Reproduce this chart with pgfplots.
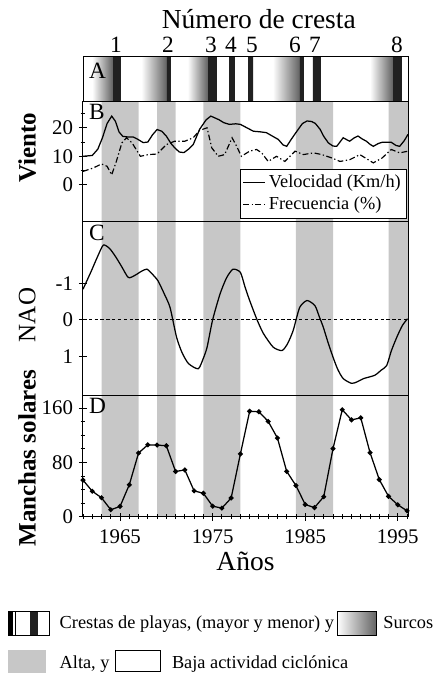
\documentclass[border=0pt]{standalone}
\usepackage{fontspec}
\setmainfont{Liberation Serif}
\usepackage{pgfplots}
\usepackage{pgfplotstable}
\pgfplotsset{compat=1.18}

\definecolor{banda}{gray}{0.78}
\definecolor{cresta}{gray}{0.13}
\definecolor{surco}{gray}{0.38}

% B: viento
\pgfplotstableread{
anio vel
1961.0 10.0
1962.0 10.3
1962.6 12.5
1963.1 16.5
1963.6 21.5
1964.1 24.1
1964.5 22.3
1964.9 18.5
1965.3 17.0
1965.8 16.8
1966.4 16.8
1966.9 16.0
1967.5 14.8
1968.0 15.0
1968.5 17.5
1969.0 19.4
1969.5 18.8
1970.0 17.1
1970.5 14.5
1970.9 13.0
1971.4 11.5
1971.9 11.3
1972.4 12.5
1972.9 14.1
1973.6 19.5
1974.3 22.8
1974.8 24.1
1975.3 23.4
1975.7 22.8
1976.2 21.8
1976.8 21.2
1977.5 21.4
1978.0 21.2
1978.7 20.0
1979.4 18.8
1980.1 18.6
1980.8 18.3
1981.5 17.0
1982.1 15.9
1982.6 14.0
1983.0 13.5
1983.5 16.0
1984.1 18.8
1984.7 21.5
1985.2 22.4
1985.7 22.2
1986.1 21.5
1986.6 19.5
1987.0 17.0
1987.5 14.7
1988.0 13.6
1988.4 13.5
1988.8 15.2
1989.1 16.5
1989.5 15.8
1989.8 15.3
1990.3 16.5
1990.7 17.1
1991.2 16.0
1991.6 15.3
1992.0 14.2
1992.35 13.5
1992.9 14.5
1993.3 14.9
1994.3 14.9
1994.8 13.8
1995.2 13.5
1995.7 15.5
1996.1 17.7
}\velocidad

\pgfplotstableread{
anio frec
1961.0 4.7
1962.1 5.9
1963.0 7.3
1963.6 6.5
1964.1 3.5
1964.6 8.2
1965.2 14.7
1965.7 16.5
1966.3 14.7
1967.2 10.0
1968.05 10.6
1969.0 10.8
1970.0 14.1
1970.9 15.3
1972.0 15.3
1972.9 16.5
1973.6 19.1
1974.4 20.0
1974.9 13.0
1975.6 10.0
1976.3 10.6
1977.1 16.5
1977.6 13.5
1978.1 10.0
1979.0 11.8
1979.75 12.4
1980.3 11.2
1981.0 8.2
1981.9 10.0
1982.8 8.2
1983.9 11.8
1984.8 10.6
1985.9 11.2
1986.8 10.6
1987.9 9.4
1988.75 8.2
1989.8 8.8
1990.9 10.6
1991.8 8.8
1992.35 7.7
1993.3 9.4
1994.3 12.4
1995.2 11.2
1996.1 11.8
}\frecuencia

% C: NAO
\pgfplotstableread{
anio nao
1961.0 -0.84
1961.9 -1.34
1962.6 -1.75
1963.2 -2.05
1963.9 -1.95
1964.6 -1.70
1965.2 -1.45
1965.9 -1.16
1966.6 -1.22
1967.3 -1.33
1967.9 -1.39
1968.5 -1.25
1969.1 -1.07
1969.8 -0.70
1970.4 -0.34
1971.1 0.47
1971.7 0.90
1972.4 1.20
1973.45 1.34
1974.0 1.05
1974.4 0.75
1975.0 0.00
1975.8 -0.71
1976.5 -1.15
1977.2 -1.39
1978.0 -1.30
1978.5 -0.90
1979.0 -0.53
1979.8 0.00
1980.5 0.38
1981.55 0.75
1982.5 0.84
1983.1 0.65
1983.7 0.29
1984.4 -0.34
1985.2 -0.53
1986.05 -0.39
1986.5 -0.10
1986.95 0.20
1987.5 0.65
1988.0 1.02
1988.5 1.35
1989.1 1.61
1990.0 1.74
1990.6 1.70
1991.3 1.61
1992.5 1.52
1993.2 1.38
1993.8 1.25
1994.3 0.85
1994.9 0.47
1995.5 0.15
1996.05 -0.03
}\nao

% D: manchas solares (medias anuales)
\pgfplotstableread{
anio ms
1961 53.9
1962 37.5
1963 27.9
1964 10.2
1965 15.1
1966 47.0
1967 93.8
1968 105.9
1969 105.5
1970 104.5
1971 66.6
1972 68.9
1973 38.0
1974 34.5
1975 15.5
1976 12.6
1977 27.5
1978 92.5
1979 155.4
1980 154.6
1981 140.4
1982 115.9
1983 66.6
1984 45.9
1985 17.9
1986 13.4
1987 29.4
1988 100.2
1989 157.6
1990 142.6
1991 145.7
1992 94.3
1993 54.6
1994 29.9
1995 17.5
1996 8.6
}\manchas

% franjas de alta actividad ciclonica
\newcommand{\franjas}[2]{%
  \addplot[fill=banda, draw=none, forget plot, line width=0pt] coordinates {
    (1963,#1)(1963,#2)(1967,#2)(1967,#1)
    (1969,#1)(1969,#2)(1971,#2)(1971,#1)
    (1974,#1)(1974,#2)(1978,#2)(1978,#1)
    (1984,#1)(1984,#2)(1988,#2)(1988,#1)
    (1994,#1)(1994,#2)(1997,#2)(1997,#1)};}

\tikzset{letra/.style={anchor=north west, inner sep=0.5pt, font=\fontsize{14}{16}\selectfont}}

\pgfplotsset{
  panel/.style={
    scale only axis, width=195pt,
    xmin=1961, xmax=1996.1,
    axis on top,
    tick align=center,
    major tick length=5pt, minor tick length=3pt,
    ytick pos=left,
    /pgf/number format/assume math mode=true,
    /pgf/number format/1000 sep={},
    tick label style={font=\fontsize{12.5}{14}\selectfont},
    label style={font=\fontsize{15}{17}\selectfont},
    every axis plot/.append style={line width=0.7pt},
    axis line style={line width=0.6pt},
    tick style={line width=0.5pt, black},
  },
  ylab/.style={ylabel style={at={(axis description cs:-0.172,#1)}, anchor=center}},
}

\begin{document}
\begin{tikzpicture}
\useasboundingbox (0,0) rectangle (267.6pt,-405pt);

% A
\begin{axis}[panel, name=A, at={(49.8pt,-34pt)}, anchor=north west,
  height=26.6pt, ymin=0, ymax=1, ytick=\empty,
  xtick={1964.56,1970.18,1974.82,1976.98,1979.25,1983.89,1986.05,1994.91},
  xticklabels={1,2,3,4,5,6,7,8},
  xtick pos=upper, xticklabel pos=upper, major tick length=0pt,
  xticklabel style={font=\fontsize{14}{16}\selectfont, yshift=-1pt},
  xlabel={Número de cresta},
  xlabel style={font=\fontsize{16.5}{18}\selectfont, xshift=8pt, yshift=-2pt}]
  % surcos
  \addplot[draw=none, left color=white, right color=surco, forget plot] coordinates {(1962.0,-1)(1962.0,2)(1964.24,2)(1964.24,-1)};
  \addplot[draw=none, left color=white, right color=surco, forget plot] coordinates {(1967.3,-1)(1967.3,2)(1970.07,2)(1970.07,-1)};
  \addplot[draw=none, left color=white, right color=surco, forget plot] coordinates {(1972.3,-1)(1972.3,2)(1974.5,2)(1974.5,-1)};
  \addplot[draw=none, left color=white, right color=surco, forget plot] coordinates {(1981.5,-1)(1981.5,2)(1984.43,2)(1984.43,-1)};
  \addplot[draw=none, left color=white, right color=surco, forget plot] coordinates {(1992.0,-1)(1992.0,2)(1994.48,2)(1994.48,-1)};
  % crestas
  \addplot[fill=cresta, draw=none, forget plot] coordinates {
    (1964.24,-1)(1964.24,2)(1965.10,2)(1965.10,-1)
    (1970.07,-1)(1970.07,2)(1970.50,2)(1970.50,-1)
    (1974.50,-1)(1974.50,2)(1975.47,2)(1975.47,-1)
    (1976.77,-1)(1976.77,2)(1977.41,2)(1977.41,-1)
    (1978.82,-1)(1978.82,2)(1979.36,2)(1979.36,-1)
    (1984.43,-1)(1984.43,2)(1984.86,2)(1984.86,-1)
    (1985.83,-1)(1985.83,2)(1986.70,2)(1986.70,-1)
    (1994.48,-1)(1994.48,2)(1995.45,2)(1995.45,-1)};
  \node[letra] at (axis description cs:0.015,0.88) {A};
\end{axis}

% B
\begin{axis}[panel, name=B, at={(A.south west)}, anchor=north west,
  height=72pt, ymin=-12.7, ymax=29.4,
  ytick={0,10,20}, minor ytick={5,15,25}, xtick=\empty,
  ylabel={\bfseries Viento}, ylab=0.61,
  legend style={at={(0.997,0.02)}, anchor=south east, draw=black, line width=0.5pt,
    font=\fontsize{11}{12.5}\selectfont, inner sep=1.5pt, row sep=0pt, cells={anchor=west}},
  legend image code/.code={\draw[#1] (0pt,0pt) -- (13pt,0pt);}]
  \franjas{-50}{50}
  \addplot[black, line width=0.75pt] table[x=anio, y=vel] {\velocidad};
  \addlegendentry{Velocidad (Km/h)}
  \addplot[black, line width=0.7pt, dash pattern=on 3.5pt off 1.5pt on 0.8pt off 1.5pt] table[x=anio, y=frec] {\frecuencia};
  \addlegendentry{Frecuencia (\%)}
  \node[letra] at (axis description cs:0.015,0.985) {B};
\end{axis}

% C
\begin{axis}[panel, name=C, at={(B.south west)}, anchor=north west,
  height=104.4pt, ymin=-2.71, ymax=2.06, y dir=reverse,
  ytick={-1,0,1}, xtick=\empty,
  ylabel={NAO}, ylab=0.46]
  \franjas{-5}{5}
  \addplot[black, line width=0.6pt, dash pattern=on 2pt off 1.5pt, forget plot] coordinates {(1961,0)(1996.1,0)};
  \addplot[black, line width=0.75pt, smooth, tension=0.4] table[x=anio, y=nao] {\nao};
  \node[letra] at (axis description cs:0.015,0.985) {C};
\end{axis}

% D
\begin{axis}[panel, name=D, at={(C.south west)}, anchor=north west,
  height=73pt, ymin=0, ymax=179.3,
  ytick={0,80,160}, minor ytick={20,40,60,100,120,140},
  xtick={1965,1975,1985,1995}, minor xtick={1961,...,1996},
  xtick pos=lower,
  xticklabel style={yshift=-2pt},
  xlabel={Años}, xlabel style={font=\fontsize{16.5}{18}\selectfont, yshift=2pt},
  ylabel={\bfseries Manchas solares}, ylab=0.48]
  \franjas{-500}{500}
  \addplot[black, line width=0.75pt, mark=*, mark size=1.1pt] table[x=anio, y=ms] {\manchas};
  \node[letra] at (axis description cs:0.015,0.985) {D};
\end{axis}

% leyenda inferior
\begin{scope}[font=\fontsize{11}{13}\selectfont]
  \draw[line width=0.5pt] (5pt,-367pt) rectangle (29.6pt,-381pt);
  \fill[black] (5pt,-367pt) rectangle (7.6pt,-381pt);
  \draw[line width=0.5pt] (9.3pt,-367pt) -- (9.3pt,-381pt);
  \fill[cresta] (18pt,-367pt) rectangle (22.8pt,-381pt);
  \node[anchor=base west, inner sep=0pt] at (35.6pt,-377pt) {Crestas de playas, (mayor y menor) y};
  \shade[left color=white, right color=surco] (202.4pt,-367pt) rectangle (226pt,-381pt);
  \draw[line width=0.5pt] (202.4pt,-367pt) rectangle (226pt,-381pt);
  \node[anchor=base west, inner sep=0pt] at (229.8pt,-377pt) {Surcos};
  \fill[banda] (5pt,-390pt) rectangle (27.6pt,-403.8pt);
  \node[anchor=base west, inner sep=0pt] at (35.6pt,-401pt) {Alta, y};
  \draw[line width=0.5pt] (69pt,-390pt) rectangle (96pt,-403pt);
  \node[anchor=base west, inner sep=0pt] at (103pt,-401pt) {Baja actividad ciclónica};
\end{scope}
\end{tikzpicture}
\end{document}
